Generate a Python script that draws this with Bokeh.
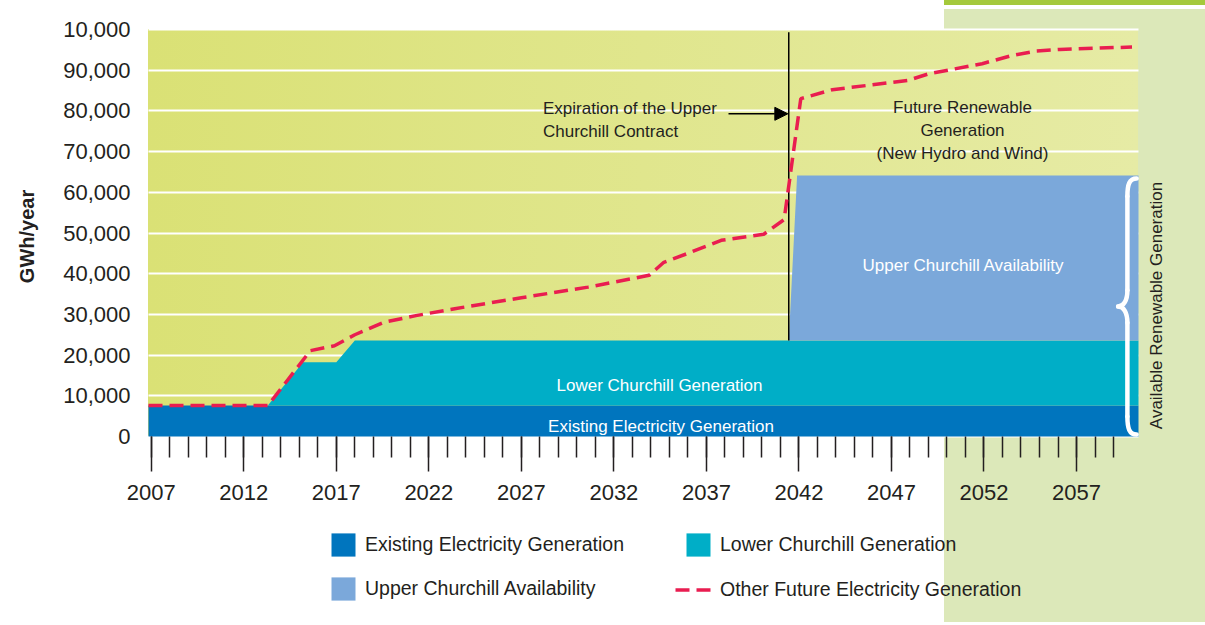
import math
from bokeh.plotting import figure
from bokeh.models import (ColumnDataSource, FixedTicker, NumeralTickFormatter, Range1d,
                          Label, Arrow, NormalHead, Legend, LegendItem)
from bokeh.embed import file_html
from bokeh.resources import INLINE

# ---------------- data ----------------
x_start, x_end = 2006.85, 2060.35
stack_years = [2006.85, 2013.3, 2015.2, 2017.0, 2018.0, 2041.45, 2041.9, 2060.35]
existing = [7600, 7600, 7600, 7600, 7600, 7600, 7600, 7600]
lower_churchill = [0, 0, 10650, 10650, 16000, 16000, 16000, 16000]
upper_churchill = [0, 0, 0, 0, 0, 0, 40500, 40500]

demand_years = [2006.85, 2013.3, 2015.6, 2016.9, 2018.0, 2019.6, 2021.3, 2023.4, 2027.0,
                2030.6, 2033.9, 2034.7, 2036.0, 2037.8, 2040.1, 2041.2, 2042.1, 2043.8,
                2047.9, 2049.0, 2051.9, 2053.5, 2054.8, 2056.1, 2060.0]
demand = [7600, 7600, 21100, 22300, 25000, 28100, 29700, 31400, 34100,
          36700, 39600, 42800, 45000, 48200, 49700, 53300, 83000, 85200,
          87500, 89100, 91600, 93600, 94700, 95100, 95700]

contract_end = 2041.45
y_ticks = [0, 10000, 20000, 30000, 40000, 50000, 60000, 70000, 80000, 90000, 100000]
x_major = [2007, 2012, 2017, 2022, 2027, 2032, 2037, 2042, 2047, 2052, 2057]
x_minor = list(range(2007, 2060))

series_names = ["Existing Electricity Generation", "Lower Churchill Generation",
                "Upper Churchill Availability", "Other Future Electricity Generation"]

# ---------------- layout / styles ----------------
C_EXIST = "#0075BE"
C_LOWER = "#00AEC7"
C_UPPER = "#7BA8DA"
C_DEMAND = "#E91D50"
INK = "#231F20"
FONT = "'Liberation Sans', Arial, sans-serif"

W, H = 1205, 622
PL, PR, PT, PB = 148, 1138, 29, 436          # plot area in page pixels
Y_TOP = 100000
kx = (PR - PL) / (x_end - x_start)            # px per year
ky = (PB - PT) / Y_TOP                        # px per GWh

def dx(px):  # page x -> data x
    return x_start + (px - PL) / kx

def dy(py):  # page y -> data y
    return (PB - py) / ky

p = figure(width=W, height=H, x_range=Range1d(dx(0), dx(W)), y_range=Range1d(dy(H), dy(0)),
           output_backend="svg", toolbar_location=None, title=None,
           min_border_left=0, min_border_right=0, min_border_top=0, min_border_bottom=0)
p.border_fill_color = None
p.background_fill_color = None
p.outline_line_color = None
p.styles = {
    "background": (
        f"linear-gradient(to right, #DAE175, #E6EBA5) {PL}px {PT}px / {PR - PL}px {PB - PT}px no-repeat, "
        f"linear-gradient(#A4C93B, #A4C93B) 944px 0px / {W - 944}px 5px no-repeat, "
        f"linear-gradient(#DCE8B9, #DCE8B9) 944px 9px / {W - 944}px {H - 9}px no-repeat, "
        "#FFFFFF"
    )
}

# grid (horizontal white lines limited to the plot area)
p.xgrid.visible = False
g = p.ygrid[0]
if "cross_bounds" in g.properties():
    g.cross_bounds = (x_start, x_end)
    g.bounds = (y_ticks[1], y_ticks[-2])
    g.grid_line_color = "white"
    g.grid_line_width = 2
else:
    g.visible = False
    p.segment(x0=[x_start] * (len(y_ticks) - 2), x1=[x_end] * (len(y_ticks) - 2),
              y0=y_ticks[1:-1], y1=y_ticks[1:-1], line_color="white", line_width=2,
              level="underlay")

# stacked areas
src = ColumnDataSource(dict(year=stack_years, existing=existing,
                            lower=lower_churchill, upper=upper_churchill))
areas = p.varea_stack(stackers=["existing", "lower", "upper"], x="year",
                      color=[C_EXIST, C_LOWER, C_UPPER], source=src)

# contract expiration line
p.segment(x0=[contract_end], y0=[existing[-1] + lower_churchill[-1]],
          x1=[contract_end], y1=[99300], line_color="black", line_width=1.5)

# demand line
demand_r = p.line(demand_years, demand, line_color=C_DEMAND, line_width=3.5,
                  line_dash="14 7")

# bracket over the available renewable generation
top_total = existing[-1] + lower_churchill[-1] + upper_churchill[-1]
xr, xs, xt = 2060.25, 2059.75, 2059.25
y_hi, y_lo = top_total - 700, 500
y_mid = (y_hi + y_lo) / 2
hook = 4400
p.bezier(x0=[xr, xs, xr, xs], y0=[y_hi, y_mid + 4000, y_lo, y_mid - 4000],
         x1=[xs, xt, xs, xt], y1=[y_hi - hook, y_mid, y_lo + hook, y_mid],
         cx0=[xs + 0.1, xs, xs + 0.1, xs], cy0=[y_hi, y_mid + 1500, y_lo, y_mid - 1500],
         cx1=[xs, xs - 0.2, xs, xs - 0.2], cy1=[y_hi - 1500, y_mid, y_lo + 1500, y_mid],
         line_color="white", line_width=4.5, line_cap="round")
p.segment(x0=[xs, xs], y0=[y_hi - hook, y_mid - 4000], x1=[xs, xs], y1=[y_mid + 4000, y_lo + hook],
          line_color="white", line_width=4.5, line_cap="round")

# axes (fixed at the plot-area edges)
p.yaxis.fixed_location = x_start
p.yaxis.ticker = FixedTicker(ticks=y_ticks)
p.yaxis.formatter = NumeralTickFormatter(format="0,0")
p.yaxis.major_label_overrides = {100000: "10,000"}
p.yaxis.axis_line_color = None
p.yaxis.major_tick_line_color = None
p.yaxis.minor_tick_line_color = None
p.yaxis.major_tick_out = 0
p.yaxis.major_tick_in = 0
p.yaxis.major_label_standoff = 18
p.yaxis.major_label_text_font = FONT
p.yaxis.major_label_text_font_size = "22px"
p.yaxis.major_label_text_color = INK

p.xaxis.fixed_location = 0
p.xaxis.ticker = FixedTicker(ticks=x_major, minor_ticks=x_minor)
p.xaxis.axis_line_color = None
p.xaxis.major_tick_in = 0
p.xaxis.major_tick_out = 35
p.xaxis.minor_tick_in = 0
p.xaxis.minor_tick_out = 21
p.xaxis.major_tick_line_color = INK
p.xaxis.minor_tick_line_color = INK
p.xaxis.major_tick_line_width = 1.5
p.xaxis.minor_tick_line_width = 1.5
p.xaxis.major_label_standoff = 13
p.xaxis.major_label_text_font = FONT
p.xaxis.major_label_text_font_size = "22px"
p.xaxis.major_label_text_color = INK

# annotations
def lab(text, x, y, color=INK, align="left", baseline="alphabetic", angle=0.0,
        size="17px", style="normal"):
    p.add_layout(Label(x=x, y=y, text=text, text_color=color, text_align=align,
                       text_baseline=baseline, angle=angle, text_font=FONT,
                       text_font_size=size, text_font_style=style))

lab("GWh/year", dx(26), dy(236), align="center", baseline="middle", angle=math.pi / 2,
    size="20px", style="bold")
lab("Expiration of the Upper", dx(542.5), dy(108.3))
lab("Churchill Contract", dx(542.5), dy(131))
lab("Future Renewable", dx(962), dy(107.3), align="center")
lab("Generation", dx(962), dy(130.3), align="center")
lab("(New Hydro and Wind)", dx(962), dy(153.3), align="center")
lab("Upper Churchill Availability", dx(963), dy(265), color="white", align="center")
lab("Lower Churchill Generation", dx(659), dy(385), color="white", align="center")
lab("Existing Electricity Generation", dx(660.5), dy(426), color="white", align="center")
lab("Available Renewable Generation", dx(1156), dy(305), align="center", baseline="middle",
    angle=math.pi / 2)

p.add_layout(Arrow(end=NormalHead(size=13, fill_color="black", line_color="black"),
                   x_start=dx(728), y_start=dy(113.3), x_end=contract_end - 0.05, y_end=dy(113.3),
                   line_color="black", line_width=1.5))

# legend: 2 x 2 grid below the chart, one Legend per entry
def leg(name, renderer, left, bottom, gw, standoff):
    lg = Legend(items=[LegendItem(label=name, renderers=[renderer])],
                location=(left, H - bottom),
                orientation="vertical", glyph_width=gw, glyph_height=29,
                label_standoff=standoff, padding=0, margin=0, spacing=0,
                border_line_color=None, background_fill_alpha=0,
                label_text_font=FONT, label_text_font_size="19.5px",
                label_text_color=INK)
    p.add_layout(lg, "center")

leg(series_names[0], areas[0], 328, 559.4, 30, 7)
leg(series_names[1], areas[1], 683, 559.4, 30, 7)
leg(series_names[2], areas[2], 328, 603.2, 30, 7)
leg(series_names[3], demand_r, 675, 604.0, 36, 9)

open("out.html", "w").write(file_html(p, INLINE))
